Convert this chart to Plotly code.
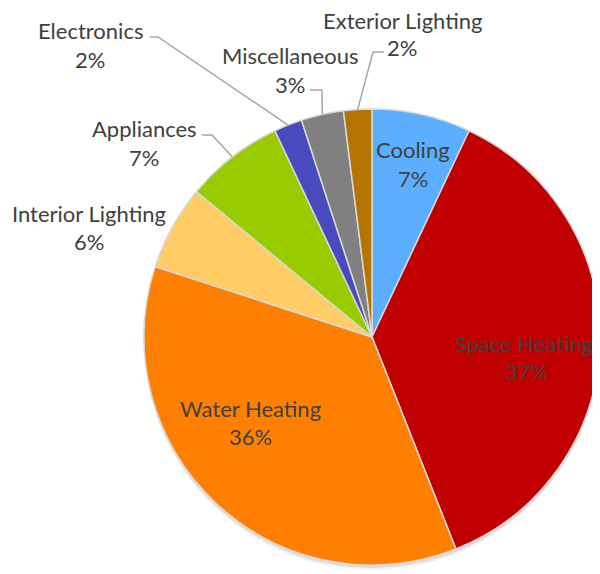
import math
import plotly.graph_objects as go

labels = ["Cooling", "Space Heating", "Water Heating", "Interior Lighting",
          "Appliances", "Electronics", "Miscellaneous", "Exterior Lighting"]
values = [7, 37, 36, 6, 7, 2, 3, 2]
colors = ["#5CAFFF", "#C00000", "#FF8000", "#FFCC66",
          "#99CC00", "#4A4ABF", "#808080", "#B37400"]

# page body has an 8px margin; work in screen pixels and subtract it
OFF = 8
W, H = 600 - OFF, 574 - OFF
CX, CY, R = 372, 337, 228  # pie centre / radius in screen pixels (layout)
FONT = "Lato"
TXT = "#404040"
FS = 22

def px(x):
    return min(1.0, max(0.0, (x - OFF) / W))

def py(y):
    return min(1.0, max(0.0, 1 - (y - OFF) / H))

fig = go.Figure()

# soft shadow
for off, alpha in [(5, 0.05), (3, 0.09)]:
    fig.add_trace(go.Pie(
        values=[1], marker=dict(colors=[f"rgba(0,0,0,{alpha})"]),
        textinfo="none", hoverinfo="skip", showlegend=False, sort=False,
        domain=dict(x=[px(CX - R), px(CX + R)],
                    y=[py(CY + R + off), py(CY - R + off)]),
    ))

fig.add_trace(go.Pie(
    labels=labels, values=values, sort=False, direction="clockwise", rotation=0,
    marker=dict(colors=colors, line=dict(color="#D9D9D9", width=1.5)),
    textinfo="none", showlegend=False,
    domain=dict(x=[px(CX - R), px(CX + R)], y=[py(CY + R), py(CY - R)]),
))

total = sum(values)
cum = []
c = 0
for v in values:
    cum.append((c, c + v))
    c += v

def edge_point(i, rfrac=1.0):
    a0, a1 = cum[i]
    ang = (a0 + a1) / 2 / total * 2 * math.pi
    return CX + R * rfrac * math.sin(ang), CY - R * rfrac * math.cos(ang)

# label positions (screen pixels): name line centre, percent line centre
label_pos = {
    "Cooling": (413, 149, 413, 178),
    "Space Heating": (524, 343, 526, 371),
    "Water Heating": (250, 408, 250, 437),
    "Interior Lighting": (89, 213, 89, 241),
    "Appliances": (144, 129, 144, 157),
    "Electronics": (90, 31, 90, 60),
    "Miscellaneous": (290, 55, 290, 84),
    "Exterior Lighting": (402, 20, 402, 47),
}
anns = []
for i, lab in enumerate(labels):
    x1, y1, x2, y2 = label_pos[lab]
    pct = f"{round(values[i] / total * 100)}%"
    for (x, y, t) in [(x1, y1, lab), (x2, y2, pct)]:
        anns.append(dict(x=px(x), y=py(y), xref="paper", yref="paper", text=t,
                         showarrow=False, xanchor="center", yanchor="middle",
                         font=dict(family=FONT, size=FS, color=TXT)))

# leader lines: label-side elbow (layout) -> slice edge (from data)
leaders = {
    "Electronics": [(150, 37), (158, 37)],
    "Appliances": [(202, 135), (212, 135)],
    "Miscellaneous": [(310, 90), (322, 90)],
    "Exterior Lighting": [(384, 52), (373, 52)],
}
shapes = []
for lab, pts in leaders.items():
    i = labels.index(lab)
    ex, ey = edge_point(i)
    allp = pts + [(ex, ey)]
    path = "M " + " L ".join(f"{px(x)},{py(y)}" for x, y in allp)
    shapes.append(dict(type="path", xref="paper", yref="paper", path=path,
                       line=dict(color="#A6A6A6", width=1.5)))

fig.update_layout(
    width=W, height=H, margin=dict(l=0, r=0, t=0, b=0),
    paper_bgcolor="white", plot_bgcolor="white",
    annotations=anns, shapes=shapes,
)
fig.write_html("out.html")
